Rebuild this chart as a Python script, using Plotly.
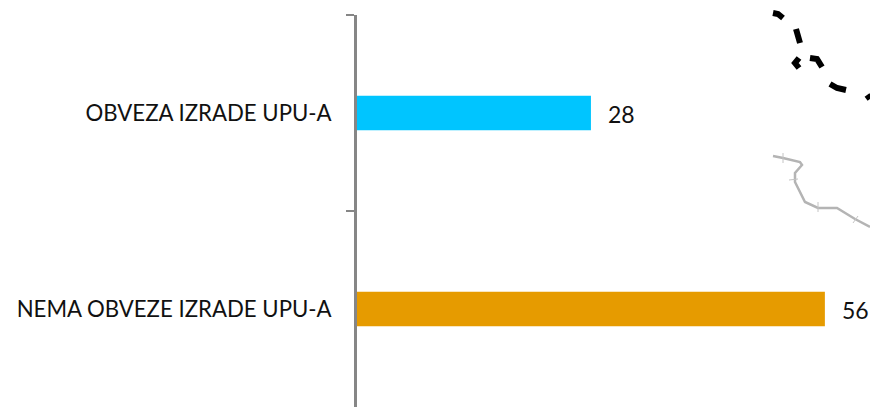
import plotly.graph_objects as go

categories = ["OBVEZA IZRADE UPU-A", "NEMA OBVEZE IZRADE UPU-A"]
values = [28, 56]
colors = ["#00C5FF", "#E69B00"]

W, H = 870, 408
L, R, T, B = 357, 0, 15, 1
AXIS = "#868686"
FONT = dict(family="Lato", size=22.2, color="#111111")
VALUE_FONT = dict(family="Lato", size=23, color="#111111")

# Background map fragments, in picture pixels
black_dashes = [
    [(773, 13), (778, 14), (783, 18)],
    [(796, 29), (798, 36), (800, 43)],
    [(799, 58), (795, 63), (799, 68)],
    [(810, 58), (817, 59), (822, 67)],
    [(830, 84), (837, 88), (846, 90)],
    [(867, 95), (870, 99)],
]
road = [(773, 156), (783, 158), (800, 162), (802, 165), (795, 173), (795, 182),
        (805, 202), (818, 208), (837, 208), (855, 219), (870, 227)]
road_ticks = [[(783, 153), (783, 163)], [(789, 180), (798, 179)],
              [(818, 202), (818, 212)], [(858, 216), (853, 223)]]


def to_domain(points):
    pw, ph = W - L - R, H - T - B
    return "M " + " L ".join(f"{(x - L) / pw} {1 - (y - T) / ph}" for x, y in points)


shapes = []
for d in black_dashes:
    shapes.append(dict(type="path", xref="x domain", yref="y domain", path=to_domain(d), layer="below",
                       line=dict(color="#000000", width=6)))
shapes.append(dict(type="path", xref="x domain", yref="y domain", path=to_domain(road), layer="below",
                   line=dict(color="#B4B4B4", width=2.5)))
for d in road_ticks:
    shapes.append(dict(type="path", xref="x domain", yref="y domain", path=to_domain(d), layer="below",
                       line=dict(color="#C4C4C4", width=1)))

fig = go.Figure(go.Bar(x=values, y=categories, orientation="h", marker=dict(color=colors, line_width=0),
                       hoverinfo="skip"))
annotations = [dict(x=v, y=c, text=str(v), showarrow=False, xanchor="left", xshift=15, yshift=-1, font=VALUE_FONT)
               for c, v in zip(categories, values)]
fig.update_layout(
    width=W, height=H, margin=dict(l=L, r=R, t=T, b=B, pad=0),
    paper_bgcolor="white", plot_bgcolor="rgba(0,0,0,0)", showlegend=False, bargap=0.825,
    font=FONT, shapes=shapes, annotations=annotations,
    xaxis=dict(range=[0, 61.4], visible=False, fixedrange=True),
    yaxis=dict(autorange="reversed", type="category", showgrid=False, showline=True, linewidth=3,
               linecolor=AXIS, ticks="outside", ticklen=8, tickwidth=2, tickcolor=AXIS,
               tickson="boundaries", ticklabelstandoff=18, tickfont=FONT, fixedrange=True),
)
fig.write_html("out.html", config=dict(displayModeBar=False),
               post_script="document.body.style.margin='0';document.body.style.overflow='hidden';")
